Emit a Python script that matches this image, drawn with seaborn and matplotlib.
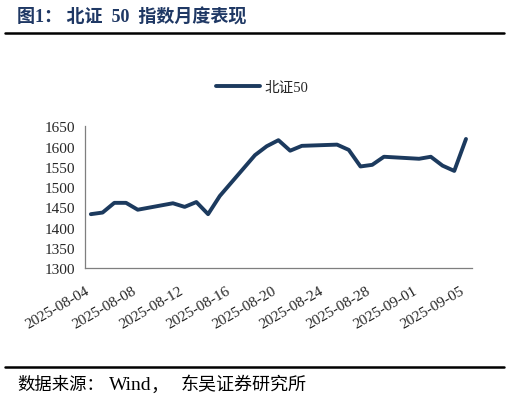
import matplotlib
matplotlib.use('Agg')
import matplotlib.pyplot as plt
import matplotlib.dates as mdates
import matplotlib.transforms as mtransforms
import seaborn as sns
import pandas as pd
from matplotlib.lines import Line2D

# 交易日与收盘点位
dates = ['2025-08-04', '2025-08-05', '2025-08-06', '2025-08-07', '2025-08-08',
         '2025-08-11', '2025-08-12', '2025-08-13', '2025-08-14', '2025-08-15',
         '2025-08-18', '2025-08-19', '2025-08-20', '2025-08-21', '2025-08-22',
         '2025-08-25', '2025-08-26', '2025-08-27', '2025-08-28', '2025-08-29',
         '2025-09-01', '2025-09-02', '2025-09-03', '2025-09-04', '2025-09-05']
values = [1433, 1437, 1461, 1461, 1444,
          1460, 1451, 1463, 1433, 1478,
          1579, 1601, 1616, 1590, 1602,
          1605, 1592, 1551, 1555, 1575,
          1570, 1575, 1553, 1540, 1619]
tick_dates = ['2025-08-04', '2025-08-08', '2025-08-12', '2025-08-16', '2025-08-20',
              '2025-08-24', '2025-08-28', '2025-09-01', '2025-09-05']
yticks = [1300, 1350, 1400, 1450, 1500, 1550, 1600, 1650]
series_name = '北证50'

df = pd.DataFrame({'date': pd.to_datetime(dates), 'value': values})

sns.set_style('white')
plt.rcParams['font.family'] = ['Liberation Serif', 'Noto Sans CJK SC']
plt.rcParams['axes.unicode_minus'] = False

line_color = '#1c3a5e'
fig = plt.figure(figsize=(5.09, 4.02), dpi=100)
ax = fig.add_axes([0.167, 0.331, 0.76, 0.352])

sns.lineplot(data=df, x='date', y='value', ax=ax, color=line_color,
             linewidth=2.8, legend=False)

# 日期轴：每一天占一格，刻度在格子左边
start = mdates.date2num(pd.Timestamp(dates[0]))
end = mdates.date2num(pd.Timestamp(dates[-1]))
ax.set_xlim(start - 0.5, end + 0.5)
tick_pos = [mdates.date2num(pd.Timestamp(d)) - 0.5 for d in tick_dates]
ax.set_xticks(tick_pos)
ax.set_xticklabels(tick_dates, rotation=30, ha='right', rotation_mode='anchor',
                   fontsize=11)
shift = mtransforms.ScaledTranslation(6 / 100, 0, fig.dpi_scale_trans)
for lab in ax.get_xticklabels():
    lab.set_transform(lab.get_transform() + shift)
ax.set_ylim(1300, 1650)
ax.set_yticks(yticks)
ax.set_yticklabels([str(v) for v in yticks], fontsize=11)
ax.set_xlabel('')
ax.set_ylabel('')
ax.grid(False)

for s in ['top', 'right']:
    ax.spines[s].set_visible(False)
for s in ['left', 'bottom']:
    ax.spines[s].set_color('#7f7f7f')
    ax.spines[s].set_linewidth(0.9)
ax.tick_params(axis='x', direction='in', length=4, color='#7f7f7f', pad=11)
ax.tick_params(axis='y', direction='out', length=4, color='#7f7f7f', pad=3)

# 图例
handle = Line2D([], [], color=line_color, linewidth=2.8)
fig.legend([handle], [series_name], loc='center', bbox_to_anchor=(0.515, 0.78),
           frameon=False, fontsize=10.5, handlelength=3.0, handletextpad=0.3)

# 标题与来源
fig.text(0.033, 0.957, '图1： 北证  50  指数月度表现', fontsize=13, fontweight='bold',
         color='#1f3864', va='center', ha='left')
fig.add_artist(Line2D([0.01, 0.99], [0.915, 0.915], color='black', linewidth=1.8))
fig.add_artist(Line2D([0.01, 0.99], [0.084, 0.084], color='black', linewidth=1.8))
fig.text(17 / 509, 0.04, '数据来源：', fontsize=12.5, color='black',
         va='center', ha='left')
fig.text(109 / 509, 0.04, 'Wind', fontsize=14, color='black',
         va='center', ha='left')
fig.text(151 / 509, 0.04, '，', fontsize=13, color='black',
         va='center', ha='left')
fig.text(181 / 509, 0.04, '东吴证券研究所', fontsize=13, color='black',
         va='center', ha='left')

fig.savefig('out.png', dpi=100)
